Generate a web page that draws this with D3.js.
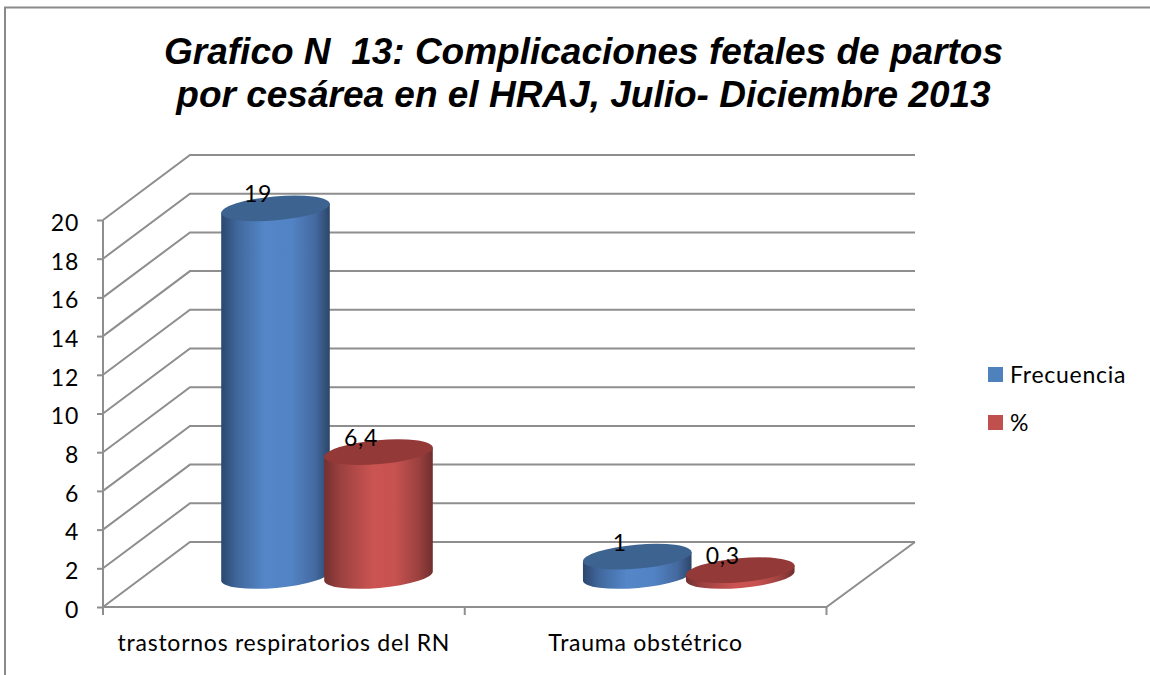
<!DOCTYPE html>
<html>
<head>
<meta charset="utf-8">
<script src="https://cdn.jsdelivr.net/npm/d3@7"></script>
<style>
    html, body { margin: 0; padding: 0; background: #fff; }
    svg { display: block; }
    text { font-family: Lato, "Open Sans", sans-serif; fill: #000; letter-spacing: 0.75px; }
    .title { font-family: "Liberation Sans", Arial, sans-serif; font-weight: bold; font-style: italic; font-size: 37px; white-space: pre; letter-spacing: 0; }
</style>
</head>
<body>
<script>
"use strict";
const titleLines = ["Grafico N  13: Complicaciones fetales de partos", "por cesárea en el HRAJ, Julio- Diciembre 2013"];
const categories = ["trastornos respiratorios del RN", "Trauma obstétrico"];
const seriesNames = ["Frecuencia", "%"];
const frecuencia = [19, 1];
const porcentaje = [6.4, 0.3];
const valueLabels = [["19", "1"], ["6,4", "0,3"]];
const yTicks = [0, 2, 4, 6, 8, 10, 12, 14, 16, 18, 20];

const measurements = { width: 1150, height: 675 };
const depth = { x: 87, y: 65 };      // floor depth of the 3d box
const barShift = { x: 43.5, y: 31 }; // bars stand half way back on the floor
const ellipse = { rx: 54.5, ry: 12, tilt: -5 };
const gridColor = "#8e8e8e";

const svg = d3.select("body").append("svg")
    .attr("width", measurements.width)
    .attr("height", measurements.height);

const scaleY = d3.scaleLinear().domain([0, 20]).range([607, 220]);
const scaleX = d3.scaleBand().domain(categories).range([103, 826.5]);
const scaleSeries = d3.scalePoint().domain(seriesNames).range([129, 232]);

// gradients for the cylinders
const defs = svg.append("defs");
function addGradient(id, stops) {
    const g = defs.append("linearGradient").attr("id", id);
    stops.forEach((s) => g.append("stop").attr("offset", s[0]).attr("stop-color", s[1]));
}
addGradient("blueBody", [[0, "#2b476f"], [0.15, "#41689d"], [0.4, "#5486c8"], [0.65, "#5283c4"], [0.87, "#44699f"], [1, "#2c4568"]]);
addGradient("redBody", [[0, "#73302f"], [0.15, "#9b4140"], [0.45, "#cb5452"], [0.65, "#c85250"], [0.88, "#98403e"], [1, "#6f2e2d"]]);
const bodyFill = { "Frecuencia": "url(#blueBody)", "%": "url(#redBody)" };
const topFill = { "Frecuencia": "#3d6391", "%": "#933a39" };
const legendFill = { "Frecuencia": "#4f81bd", "%": "#c0504d" };

// outer frame, only left and top are in the picture
svg.append("path")
    .attr("d", "M5,675V7.5H1150")
    .attr("fill", "none")
    .attr("stroke", "#8a8a8a")
    .attr("stroke-width", 2);

// title
svg.selectAll("text.title")
    .data(titleLines)
    .enter()
    .append("text")
    .attr("class", "title")
    .attr("text-anchor", "middle")
    .attr("x", 583.5)
    .attr("y", (d, i) => 64 + i * 43)
    .text((d) => d);

// walls and floor
const walls = svg.append("g").attr("fill", "none").attr("stroke", gridColor).attr("stroke-width", 2);
walls.selectAll("path.grid")
    .data(yTicks)
    .enter()
    .append("path")
    .attr("class", "grid")
    .attr("d", (d) => {
        const y = scaleY(d);
        return "M103," + y + "L" + (103 + depth.x) + "," + (y - depth.y) + "H915";
    });
walls.append("path")
    .attr("d", "M103," + scaleY(20) + "V" + scaleY(0) + "H826.5L915," + (scaleY(0) - depth.y));

// axes, drawn by d3 and then restyled to match the walls
const axisLeft = d3.axisLeft(scaleY).tickValues(yTicks).tickSize(6).tickPadding(18);
const gLeft = svg.append("g").attr("transform", "translate(103,0)").call(axisLeft);
gLeft.select(".domain").remove();
gLeft.selectAll("line").attr("stroke", gridColor).attr("stroke-width", 2);
gLeft.selectAll("text").attr("font-size", 23).attr("dy", "0.45em").style("font-family", "Lato");

const axisBottom = d3.axisBottom(scaleX).tickSize(0).tickPadding(28);
const gBottom = svg.append("g").attr("transform", "translate(0,607)").call(axisBottom);
gBottom.select(".domain").remove();
gBottom.selectAll("text").attr("font-size", 23).style("font-family", "Lato");
const boundaries = [scaleX.range()[0], scaleX(categories[1]), scaleX.range()[1]];
svg.selectAll("line.catTick")
    .data(boundaries)
    .enter()
    .append("line")
    .attr("class", "catTick")
    .attr("x1", (d) => d).attr("x2", (d) => d)
    .attr("y1", 607).attr("y2", 615)
    .attr("stroke", gridColor).attr("stroke-width", 2);

// cylinders
function cylinderPath(cx, yTop, yBottom) {
    const rad = ellipse.tilt * Math.PI / 180;
    const dx = ellipse.rx * Math.cos(rad);
    const dy = ellipse.rx * Math.sin(rad);
    const arc = "A" + ellipse.rx + "," + ellipse.ry + " " + ellipse.tilt + " 0 0 ";
    return "M" + (cx - dx) + "," + (yTop - dy)
        + "L" + (cx - dx) + "," + (yBottom - dy)
        + arc + (cx + dx) + "," + (yBottom + dy)
        + "L" + (cx + dx) + "," + (yTop + dy) + "Z";
}

const bars = [];
categories.forEach((c, i) => {
    bars.push({ category: c, series: seriesNames[0], value: frecuencia[i], label: valueLabels[0][i] });
    bars.push({ category: c, series: seriesNames[1], value: porcentaje[i], label: valueLabels[1][i] });
});
const cx = (d) => scaleX(d.category) + scaleSeries(d.series) + barShift.x;
const cyTop = (d) => scaleY(d.value) - barShift.y;

const gBars = svg.selectAll("g.bar")
    .data(bars)
    .enter()
    .append("g")
    .attr("class", "bar");
gBars.append("path")
    .attr("d", (d) => cylinderPath(cx(d), cyTop(d), scaleY(0) - barShift.y))
    .attr("fill", (d) => bodyFill[d.series]);
gBars.append("ellipse")
    .attr("rx", ellipse.rx)
    .attr("ry", ellipse.ry)
    .attr("transform", (d) => "translate(" + cx(d) + "," + cyTop(d) + ") rotate(" + ellipse.tilt + ")")
    .attr("fill", (d) => topFill[d.series]);

// value labels go over all the bars
svg.selectAll("text.value")
    .data(bars)
    .enter()
    .append("text")
    .attr("class", "value")
    .attr("text-anchor", "middle")
    .attr("font-size", 23)
    .attr("x", (d) => cx(d) - 17.5)
    .attr("y", (d) => cyTop(d) - 6)
    .text((d) => d.label);

// legend
const legend = svg.selectAll("g.legend")
    .data(seriesNames)
    .enter()
    .append("g")
    .attr("class", "legend")
    .attr("transform", (d, i) => "translate(988," + (367 + i * 48) + ")");
legend.append("rect")
    .attr("width", 15).attr("height", 15)
    .attr("fill", (d) => legendFill[d]);
legend.append("text")
    .attr("x", 22)
    .attr("y", 15.5)
    .attr("font-size", 23)
    .text((d) => d);
</script>
</body>
</html>
